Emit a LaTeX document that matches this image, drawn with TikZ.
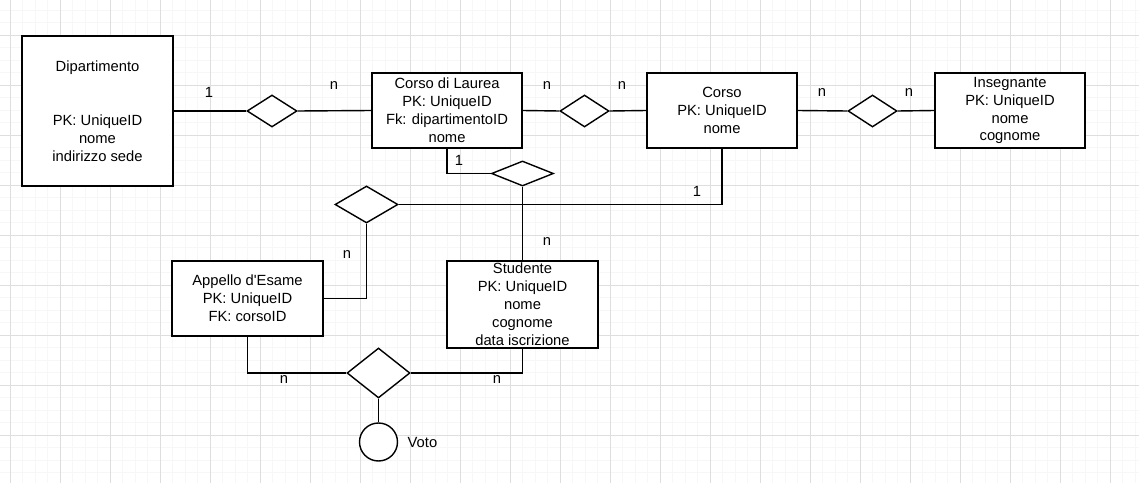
\documentclass[tikz,border=0pt]{standalone}
\usepackage{fontspec}
\setmainfont{Liberation Sans}
\usetikzlibrary{shapes.geometric}
\definecolor{gridminor}{RGB}{247,247,247}
\definecolor{gridmajor}{RGB}{222,222,222}
\tikzset{
  entity/.style={draw, fill=white, align=center, inner sep=0pt},
  rel/.style={draw, diamond, fill=white, inner sep=0pt},
  attrib/.style={draw, circle, fill=white, inner sep=0pt, minimum size=0.76cm},
  card/.style={inner sep=0pt}
}
\begin{document}
\begin{tikzpicture}[x=0.02cm, y=-0.02cm, line width=0.8pt, font=\fontsize{8.4}{10.2}\selectfont]
\useasboundingbox[fill=white] (0,0) rectangle (1139,483);
\foreach \k in {0,...,90} \draw[gridminor, line width=0.5pt] ({10+12.5*\k},0) -- ({10+12.5*\k},483);
\foreach \k in {-2,...,35} \draw[gridminor, line width=0.5pt] (0,{35+12.5*\k}) -- (1139,{35+12.5*\k});
\foreach \k in {0,...,22} \draw[gridmajor, line width=0.5pt] ({10+50*\k},0) -- ({10+50*\k},483);
\foreach \k in {0,...,8} \draw[gridmajor, line width=0.5pt] (0,{35+50*\k}) -- (1139,{35+50*\k});

\node[entity, minimum width=3.02cm, minimum height=3cm] (dip) at (97.5,111) {Dipartimento\\[20.4pt]PK: UniqueID\\nome\\indirizzo sede};
\node[entity, minimum width=3cm, minimum height=1.5cm] (cdl) at (447,110.5) {Corso di Laurea\\PK: UniqueID\\Fk: dipartimentoID\\nome};
\node[entity, minimum width=3cm, minimum height=1.5cm] (corso) at (722,110.5) {Corso\\PK: UniqueID\\nome};
\node[entity, minimum width=3cm, minimum height=1.5cm] (ins) at (1010,110.5) {Insegnante\\PK: UniqueID\\nome\\cognome};
\node[entity, minimum width=3.02cm, minimum height=1.5cm] (app) at (247.5,298.5) {Appello d\textquotesingle Esame\\PK: UniqueID\\FK: corsoID};
\node[entity, minimum width=3.02cm, minimum height=1.74cm] (stu) at (522.5,304.5) {Studente\\PK: UniqueID\\nome\\cognome\\data iscrizione};

\node[rel, minimum width=1cm, minimum height=0.64cm] (r1) at (272,111) {};
\node[rel, minimum width=0.98cm, minimum height=0.64cm] (r2) at (584.5,111) {};
\node[rel, minimum width=0.98cm, minimum height=0.64cm] (r3) at (872.5,111) {};
\node[rel, minimum width=1.24cm, minimum height=0.5cm] (r4) at (522.5,173.5) {};
\node[rel, minimum width=1.26cm, minimum height=0.74cm] (r5) at (366.5,204.5) {};
\node[rel, minimum width=1.26cm, minimum height=1cm] (r6) at (378.5,373) {};
\node[attrib] (voto) at (378.5,442) {};
\node[card, anchor=west] (votolbl) at (407,442) {Voto};

\node[card] (c1) at (209,92) {1};
\node[card] (c2) at (334,86) {n};
\node[card] (c3) at (547,86) {n};
\node[card] (c4) at (622,86) {n};
\node[card] (c5) at (822,93) {n};
\node[card] (c6) at (909,93) {n};
\node[card] (c7) at (459,160) {1};
\node[card] (c8) at (697,191) {1};
\node[card] (c9) at (547,242) {n};
\node[card] (c10) at (347,255) {n};
\node[card] (c11) at (284,380) {n};
\node[card] (c12) at (497,380) {n};

\draw (dip.east) -- (r1.west);
\draw (r1.east) -- (cdl.west);
\draw (cdl.east) -- (r2.west);
\draw (r2.east) -- (corso.west);
\draw (corso.east) -- (r3.west);
\draw (r3.east) -- (ins.west);
\draw (cdl.south) |- (r4.west);
\draw (r4.south) -- (stu.north);
\draw (corso.south) |- (r5.east);
\draw (r5.south) |- (app.east);
\draw (app.south) |- (r6.west);
\draw (r6.east) -| (stu.south);
\draw (r6.south) -- (voto.north);
\end{tikzpicture}
\end{document}
